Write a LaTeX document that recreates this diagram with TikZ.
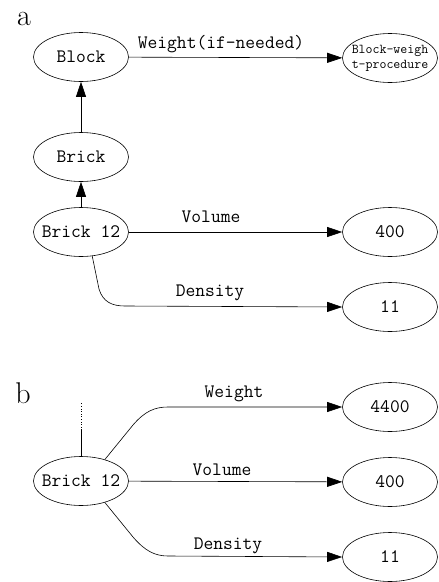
\documentclass[tikz,border=0pt]{standalone}
\usepackage{fontspec}
\usetikzlibrary{shapes.geometric,arrows.meta}
\tikzset{
  ell/.style={draw, ellipse, line width=0.6pt, minimum width=95pt, minimum height=49pt, inner xsep=-14pt, inner ysep=-4pt, font=\fontsize{19}{21}\selectfont\ttfamily},
  lbl/.style={inner sep=0pt, font=\fontsize{19}{21}\selectfont\ttfamily},
  letter/.style={inner sep=0pt, font=\fontsize{30}{32}\selectfont\rmfamily},
  conn/.style={line width=0.6pt, -{Triangle[length=15pt,width=10pt]}},
  plain/.style={line width=0.6pt}
}
\begin{document}
\begin{tikzpicture}[x=1pt,y=-1pt]
\useasboundingbox (0,0) rectangle (439,582);
% part a
\node[letter] (la) at (24,19) {a};
\node[ell] (block) at (81,57) {Block};
\node[ell, align=center, font=\fontsize{13.5}{15}\selectfont\ttfamily] (bwp) at (390,58) {Block-weigh\\t-procedure};
\node[ell] (brick) at (81,157) {Brick};
\node[ell] (b12a) at (81,232) {Brick 12};
\node[ell] (v400a) at (390,232) {400};
\node[ell] (v11a) at (390,307) {11};
\draw[conn] (block) -- (bwp);
\node[lbl] (wif) at (221,44) {Weight(if-needed)};
\draw[conn] (brick) -- (block);
\draw[conn] (b12a) -- (brick);
\draw[conn] (b12a) -- (v400a);
\node[lbl] (vola) at (211,217) {Volume};
\coordinate (da1) at (99,289);
\coordinate (da2) at (125,306);
\draw[conn] (b12a.-65) -- (da1) .. controls (103,302) and (112,306) .. (da2) -- (v11a.west);
\node[lbl] (dena) at (210,293) {Density};
% part b
\node[letter] (lb) at (23,393) {b};
\node[ell] (b12b) at (81,481) {Brick 12};
\node[ell] (v4400) at (390,407) {4400};
\node[ell] (v400b) at (390,482) {400};
\node[ell] (v11b) at (390,557) {11};
\coordinate (top) at (81,403);
\coordinate (mid) at (81,430);
\draw[plain] (b12b.north) -- (mid);
\draw[plain, dotted] (mid) -- (top);
\coordinate (w1) at (133,425);
\coordinate (w2) at (168,407);
\draw[conn] (b12b.42) -- (w1) .. controls (145,411) and (155,407) .. (w2) -- (v4400.west);
\node[lbl] (wb) at (234,394) {Weight};
\draw[conn] (b12b) -- (v400b);
\node[lbl] (volb) at (222,470) {Volume};
\coordinate (d1) at (133,537);
\coordinate (d2) at (168,556);
\draw[conn] (b12b.-42) -- (d1) .. controls (145,551) and (155,556) .. (d2) -- (v11b.west);
\node[lbl] (denb) at (228,546) {Density};
\end{tikzpicture}
\end{document}
